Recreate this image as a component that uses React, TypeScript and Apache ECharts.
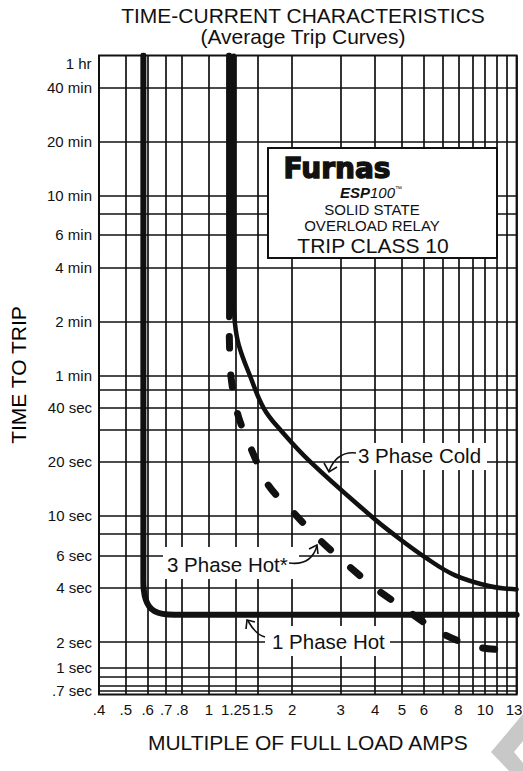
import React, { useEffect, useRef } from 'react';
import * as echarts from 'echarts';

const FONT = '"Liberation Sans", Arial, Helvetica, sans-serif';

// X axis (multiple of full load amps, log scale)
const xGridValues = [0.4, 0.5, 0.6, 0.7, 0.8, 1, 1.25, 1.5, 2, 3, 4, 5, 6, 7, 8, 9, 10, 11, 12, 13];
const xTickValues = [0.4, 0.5, 0.6, 0.7, 0.8, 1, 1.25, 1.5, 2, 3, 4, 5, 6, 8, 10, 13];
const xTickLabels = ['.4', '.5', '.6', '.7', '.8', '1', '1.25', '1.5', '2', '3', '4', '5', '6', '8', '10', '13'];

// Y axis (time to trip, seconds)
const yTickSeconds = [3600, 2400, 1200, 600, 360, 240, 120, 60, 40, 20, 10, 6, 4, 2, 1, 0.7];
const yTickLabels = ['1 hr', '40 min', '20 min', '10 min', '6 min', '4 min', '2 min', '1 min', '40 sec', '20 sec', '10 sec', '6 sec', '4 sec', '2 sec', '1 sec', '.7 sec'];
const yExtraGridSeconds = [480, 50, 30, 8, 0.88, 0.75];
const yMinSeconds = 0.65;
const yMaxSeconds = 3600;

// Curves: [multiple of FLA, seconds]
const onePhaseHot: number[][] = [
  [0.579, 3600], [0.579, 600], [0.579, 60], [0.579, 10], [0.579, 4.4], [0.581, 3.9],
  [0.59, 3.45], [0.607, 3.15], [0.635, 2.96], [0.68, 2.86], [0.75, 2.83], [13, 2.83],
];
const threePhaseCold: number[][] = [
  [1.231, 3600], [1.231, 600], [1.231, 158], [1.241, 119], [1.283, 88.7], [1.406, 60.4],
  [1.58, 39.6], [1.82, 29.9], [2.335, 19.9], [3.91, 9.83], [4.62, 8.0], [6.07, 5.89],
  [7.79, 4.68], [10.43, 4.07], [13, 3.91],
];
const threePhaseHotSolid: number[][] = [[1.183, 3600], [1.183, 600], [1.183, 127]];
const threePhaseHotDashed: number[][] = [
  [1.183, 127], [1.186, 96.5], [1.2, 60.6], [1.273, 36.5], [1.442, 22.4], [1.647, 14.7],
  [2.027, 10.4], [2.54, 7.28], [3.2, 5.29], [4.07, 3.89], [5.19, 3.01], [6.71, 2.3],
  [8.98, 1.8], [12.3, 1.57], [13, 1.55],
];

// The printed time scale is logarithmic above 2 sec and compressed below it.
function yPos(sec: number): number {
  const l2 = Math.log10(2);
  if (sec >= 2) return Math.log10(sec);
  if (sec >= 1) return l2 - 0.48 * Math.log10(2 / sec);
  return l2 - 0.48 * l2 - 0.79 * Math.log10(1 / sec);
}
const toData = (pts: number[][]) => pts.map(([m, s]) => [m, yPos(s)]);

const INK = '#111';

function buildOption() {
  const yTop = yPos(yMaxSeconds);
  const xMarks = xGridValues.map((v) => {
    const i = xTickValues.indexOf(v);
    const lab: any = i >= 0 ? { show: true, formatter: xTickLabels[i] } : { show: false };
    if (v === 1.5) lab.padding = [0, 0, 0, 10];
    if (v === 13) lab.padding = [0, 5, 0, 0];
    return { xAxis: v, label: lab };
  });
  const allY = [...yTickSeconds, ...yExtraGridSeconds]
    .filter((s) => s !== yMaxSeconds)
    .sort((a, b) => b - a);
  const yMarks = allY.map((s) => {
    const i = yTickSeconds.indexOf(s);
    return {
      yAxis: yPos(s),
      label: i >= 0 ? { show: true, formatter: yTickLabels[i] } : { show: false },
    };
  });

  const curve = (name: string, data: number[][], width: number, extra: any = {}, smooth = 0.3) => ({
    name,
    type: 'line',
    data: toData(data),
    showSymbol: false,
    symbol: 'none',
    smooth,
    z: 3,
    silent: true,
    lineStyle: { color: INK, width, cap: 'round', join: 'round', ...extra },
  });

  const labelStyle = { color: INK, fontSize: 15, fontFamily: FONT };

  return {
    animation: false,
    backgroundColor: '#fff',
    title: {
      text: 'TIME-CURRENT CHARACTERISTICS',
      subtext: '(Average Trip Curves)',
      left: 303,
      textAlign: 'center',
      top: 5,
      itemGap: 0,
      padding: 0,
      textStyle: { fontSize: 21, lineHeight: 21, fontWeight: 'normal', color: INK, fontFamily: FONT },
      subtextStyle: { fontSize: 21, lineHeight: 21, color: INK, fontFamily: FONT },
    },
    grid: {
      left: 98, top: 55.5, width: 418.6, height: 639,
      show: true, borderColor: INK, borderWidth: 2, backgroundColor: 'rgba(0,0,0,0)',
    },
    xAxis: {
      type: 'log', logBase: 10, min: 0.4, max: 13,
      axisLine: { show: false, lineStyle: { color: INK } }, axisTick: { show: false }, axisLabel: { show: false },
      splitLine: { show: false },
      name: 'MULTIPLE OF FULL LOAD AMPS', nameLocation: 'middle', nameGap: 37,
      nameTextStyle: { fontSize: 21, color: INK, fontFamily: FONT },
    },
    yAxis: {
      type: 'value', min: yPos(yMinSeconds), max: yTop,
      axisLine: { show: false, lineStyle: { color: INK } }, axisTick: { show: false }, axisLabel: { show: false },
      splitLine: { show: false },
      name: 'TIME TO TRIP', nameLocation: 'middle', nameRotate: 90, nameGap: 70,
      nameTextStyle: { fontSize: 21, color: '#000', fontFamily: FONT },
    },
    series: [
      {
        name: 'grid',
        type: 'line',
        data: [[1, yPos(60)]],
        showSymbol: false,
        symbol: 'none',
        lineStyle: { opacity: 0 },
        z: 1,
        silent: true,
        markLine: {
          silent: true,
          symbol: ['none', 'none'],
          animation: false,
          lineStyle: { color: INK, width: 1.7, type: 'solid', opacity: 1 },
          label: { show: false, position: 'start', distance: 7, ...labelStyle },
          emphasis: { disabled: true },
          data: [...xMarks, ...yMarks],
        },
        markPoint: {
          silent: true,
          animation: false,
          symbol: 'circle',
          symbolSize: 1,
          itemStyle: { color: 'rgba(0,0,0,0)' },
          label: { show: true, position: 'left', distance: 7, formatter: yTickLabels[0], ...labelStyle },
          data: [{ coord: [0.4, yTop - 0.042] }],
        },
      },
      curve('1 Phase Hot', onePhaseHot, 6),
      curve('3 Phase Cold', threePhaseCold, 4.5, {}, 0.4),
      curve('3 Phase Hot', threePhaseHotSolid, 6),
      curve('3 Phase Hot dashed', threePhaseHotDashed, 7, { type: [12, 27], dashOffset: 20 }),
    ],
    graphic: [
      // Furnas box
      { type: 'rect', z: 20, shape: { x: 268, y: 148, width: 229, height: 110 }, style: { fill: '#fff', stroke: INK, lineWidth: 2 } },
      { type: 'text', z: 21, x: 337, y: 168, style: { text: 'Furnas', font: 'bold 28px "DejaVu Sans"', fill: INK, stroke: INK, lineWidth: 1.4, align: 'center', verticalAlign: 'middle' } },
      {
        type: 'text', z: 21, x: 371, y: 192,
        style: {
          text: '{a|ESP}{b|100}{c|™}', align: 'center', verticalAlign: 'middle', fill: INK,
          rich: {
            a: { fontSize: 15, fontWeight: 900, fontStyle: 'italic', fontFamily: FONT, fill: INK },
            b: { fontSize: 15, fontStyle: 'italic', fontFamily: FONT, fill: INK },
            c: { fontSize: 7, fontFamily: FONT, fill: INK, verticalAlign: 'top' },
          },
        },
      },
      { type: 'text', z: 21, x: 372, y: 209, style: { text: 'SOLID STATE', font: `15px ${FONT}`, fill: INK, align: 'center', verticalAlign: 'middle' } },
      { type: 'text', z: 21, x: 372, y: 225, style: { text: 'OVERLOAD RELAY', font: `15px ${FONT}`, fill: INK, align: 'center', verticalAlign: 'middle' } },
      { type: 'text', z: 21, x: 373, y: 245, style: { text: 'TRIP CLASS 10', font: `21px ${FONT}`, fill: INK, align: 'center', verticalAlign: 'middle' } },

      // 3 Phase Cold label
      { type: 'rect', z: 20, shape: { x: 349, y: 443, width: 138, height: 27 }, style: { fill: '#fff' } },
      { type: 'text', z: 21, x: 358, y: 455, style: { text: '3 Phase Cold', font: `20.5px ${FONT}`, fill: INK, align: 'left', verticalAlign: 'middle' } },
      { type: 'bezierCurve', z: 21, shape: { x1: 356, y1: 453, cpx1: 337, cpy1: 451, x2: 329, y2: 471 }, style: { stroke: INK, lineWidth: 1.6, fill: 'none' } },
      { type: 'polyline', z: 21, shape: { points: [[324, 463], [329, 472], [337, 467]] }, style: { stroke: INK, lineWidth: 1.6, fill: 'none' } },

      // 3 Phase Hot* label
      { type: 'rect', z: 20, shape: { x: 163, y: 547, width: 136, height: 32 }, style: { fill: '#fff' } },
      { type: 'text', z: 21, x: 167, y: 564, style: { text: '3 Phase Hot*', font: `20.5px ${FONT}`, fill: INK, align: 'left', verticalAlign: 'middle' } },
      { type: 'bezierCurve', z: 21, shape: { x1: 289, y1: 563, cpx1: 311, cpy1: 566, x2: 317, y2: 546 }, style: { stroke: INK, lineWidth: 1.6, fill: 'none' } },
      { type: 'polyline', z: 21, shape: { points: [[309, 549], [317, 545], [318, 554]] }, style: { stroke: INK, lineWidth: 1.6, fill: 'none' } },

      // 1 Phase Hot label
      { type: 'rect', z: 20, shape: { x: 265, y: 626, width: 125, height: 30 }, style: { fill: '#fff' } },
      { type: 'text', z: 21, x: 272, y: 641, style: { text: '1 Phase Hot', font: `20.5px ${FONT}`, fill: INK, align: 'left', verticalAlign: 'middle' } },
      { type: 'bezierCurve', z: 21, shape: { x1: 265, y1: 637, cpx1: 256, cpy1: 635, x2: 248, y2: 621 }, style: { stroke: INK, lineWidth: 1.6, fill: 'none' } },
      { type: 'polyline', z: 21, shape: { points: [[246, 629], [247, 620], [255, 622]] }, style: { stroke: INK, lineWidth: 1.6, fill: 'none' } },

      // grey corner mark
      { type: 'polygon', z: 21, shape: { points: [[523, 714], [491, 752], [509, 771], [523, 771], [523, 763], [514, 752], [523, 741]] }, style: { fill: '#c8c8c8' } },
    ],
  };
}

export default function App() {
  const ref = useRef<HTMLDivElement>(null);
  useEffect(() => {
    if (!ref.current) return;
    const chart = echarts.init(ref.current, undefined, { renderer: 'svg' });
    chart.setOption(buildOption() as any);
    return () => chart.dispose();
  }, []);
  return (
    <div
      ref={ref}
      style={{ position: 'absolute', left: 0, top: 0, width: 523, height: 771, background: '#fff' }}
    />
  );
}
